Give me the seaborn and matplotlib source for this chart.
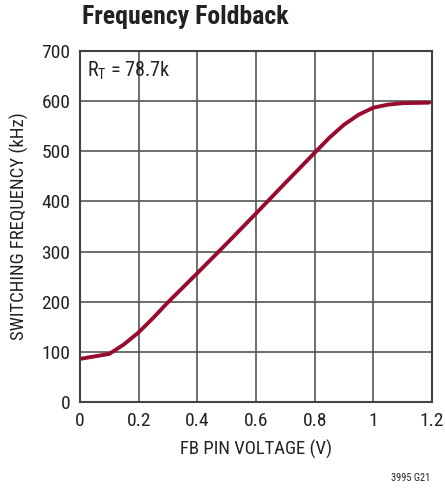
import pandas as pd
import matplotlib.pyplot as plt
import seaborn as sns

# values
fb_voltage = [0.0, 0.05, 0.1, 0.15, 0.2, 0.25, 0.3, 0.35, 0.4, 0.5, 0.6, 0.7, 0.8, 0.85, 0.9, 0.95, 1.0, 1.05, 1.1, 1.19]
sw_freq = [86, 91, 96, 115, 139, 168, 199, 228, 257, 316, 376, 437, 497, 527, 553, 573, 587, 593, 596, 597]
x_ticks = [0, 0.2, 0.4, 0.6, 0.8, 1.0, 1.2]
x_tick_labels = ["0", "0.2", "0.4", "0.6", "0.8", "1", "1.2"]
y_ticks = [0, 100, 200, 300, 400, 500, 600, 700]

sns.set_style("white")
plt.rcParams["font.family"] = ["Roboto Condensed", "Liberation Sans Narrow", "Liberation Sans", "DejaVu Sans"]
plt.rcParams["mathtext.default"] = "regular"

df = pd.DataFrame({"voltage": fb_voltage, "freq": sw_freq})

fig = plt.figure(figsize=(4.45, 4.88), dpi=100)
ax = fig.add_axes([0.1798, 0.1762, 0.7910, 0.7193])

sns.lineplot(data=df, x="voltage", y="freq", ax=ax, color="#990b2e", linewidth=2.8)

ax.set_xlim(0, 1.2)
ax.set_ylim(0, 700)
ax.set_xticks(x_ticks)
ax.set_xticklabels(x_tick_labels)
ax.set_yticks(y_ticks)
ax.tick_params(length=0, labelsize=14, colors="#222222", pad=7)
ax.grid(True, color="#555555", linewidth=1.2)
for sp in ax.spines.values():
    sp.set_color("#444444")
    sp.set_linewidth(1.5)

ax.set_xlabel("FB PIN VOLTAGE (V)", fontsize=13.5, color="#222222", labelpad=7)
ax.set_ylabel("SWITCHING FREQUENCY (kHz)", fontsize=13.5, color="#222222", labelpad=9)

ax.text(0.025, 660, "R$_T$ = 78.7k", fontsize=14.5, color="#222222", va="center", ha="left")

fig.text(82 / 445, 1 - 17 / 488, "Frequency Foldback", fontsize=18.5, fontweight="bold",
         color="#222222", ha="left", va="center")
fig.text(430 / 445, 1 - 478 / 488, "3995 G21", fontsize=7.5, color="#222222", ha="right", va="center")

fig.savefig("out.png", dpi=100)
